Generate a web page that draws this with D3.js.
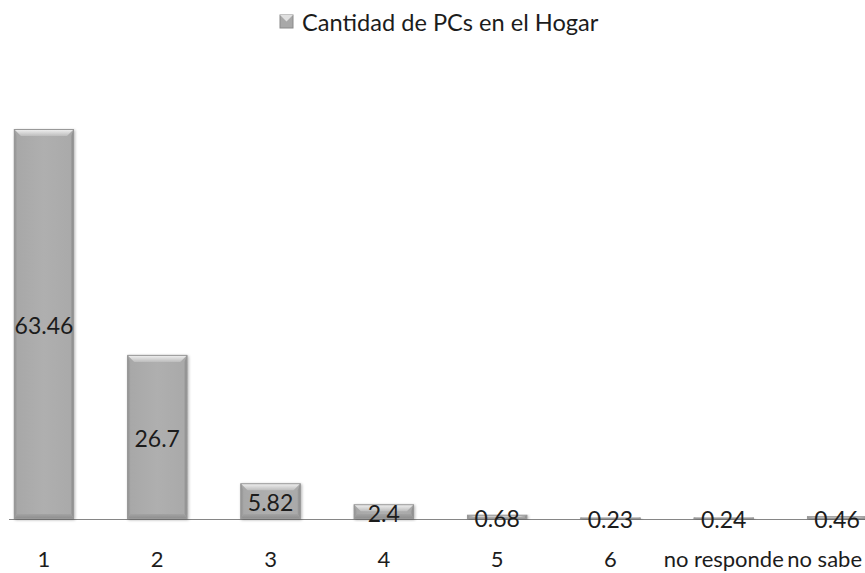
<!DOCTYPE html>
<html>
<head>
<meta charset="utf-8">
<script src="https://cdn.jsdelivr.net/npm/d3@7"></script>
<style>
  html, body { margin: 0; padding: 0; background: #fff; }
  svg { display: block; }
  text { font-family: Lato, "Open Sans", sans-serif; fill: #1c1c1c; }
</style>
</head>
<body>
<svg id="chart" width="865" height="573"></svg>
<script>
// Cantidad de PCs en el Hogar (%)
const categories = ["1", "2", "3", "4", "5", "6", "no responde", "no sabe"];
const values = [63.46, 26.7, 5.82, 2.4, 0.68, 0.23, 0.24, 0.46];
const seriesName = "Cantidad de PCs en el Hogar";

const W = 865, H = 573;
const baseY = 519, topY = 129;
const svg = d3.select("#chart");

const x = d3.scaleBand().domain(categories).range([-12.7, 893.7]).paddingInner(0.47).paddingOuter(0.235);
const y = d3.scaleLinear().domain([0, 63.46]).range([baseY, topY]);

const defs = svg.append("defs");
const face = defs.append("linearGradient").attr("id", "face").attr("x1", 0).attr("x2", 1).attr("y1", 0).attr("y2", 0);
face.append("stop").attr("offset", "0").attr("stop-color", "#a7a7a7");
face.append("stop").attr("offset", "0.5").attr("stop-color", "#afafaf");
face.append("stop").attr("offset", "1").attr("stop-color", "#a9a9a9");
const topG = defs.append("linearGradient").attr("id", "topBevel").attr("x1", 0).attr("x2", 0).attr("y1", 0).attr("y2", 1);
topG.append("stop").attr("offset", "0").attr("stop-color", "#f4f4f4");
topG.append("stop").attr("offset", "1").attr("stop-color", "#bdbdbd");
const leftG = defs.append("linearGradient").attr("id", "leftBevel").attr("x1", 0).attr("x2", 1).attr("y1", 0).attr("y2", 0);
leftG.append("stop").attr("offset", "0").attr("stop-color", "#8e8e8e");
leftG.append("stop").attr("offset", "1").attr("stop-color", "#a4a4a4");
const rightG = defs.append("linearGradient").attr("id", "rightBevel").attr("x1", 1).attr("x2", 0).attr("y1", 0).attr("y2", 0);
rightG.append("stop").attr("offset", "0").attr("stop-color", "#858585");
rightG.append("stop").attr("offset", "1").attr("stop-color", "#a0a0a0");
const botG = defs.append("linearGradient").attr("id", "botBevel").attr("x1", 0).attr("x2", 0).attr("y1", 1).attr("y2", 0);
botG.append("stop").attr("offset", "0").attr("stop-color", "#8c8c8c");
botG.append("stop").attr("offset", "1").attr("stop-color", "#a3a3a3");

const f = defs.append("filter").attr("id", "shadow").attr("x", "-20%").attr("y", "-20%").attr("width", "140%").attr("height", "140%");
f.append("feGaussianBlur").attr("in", "SourceAlpha").attr("stdDeviation", 1.5);
f.append("feOffset").attr("dx", 1).attr("dy", 1).attr("result", "b");
f.append("feComponentTransfer").append("feFuncA").attr("type", "linear").attr("slope", 0.3);
const m = f.append("feMerge");
m.append("feMergeNode");
m.append("feMergeNode").attr("in", "SourceGraphic");

// Axis baseline
svg.append("line").attr("x1", 9).attr("x2", W).attr("y1", baseY + 0.5).attr("y2", baseY + 0.5)
  .attr("stroke", "#868686").attr("stroke-width", 1);

// Bevelled bars
const bars = svg.append("g").selectAll("g").data(values).join("g")
  .attr("filter", "url(#shadow)");
bars.each(function(v, i) {
  const gx = d3.select(this);
  const x0 = x(categories[i]), w = x.bandwidth();
  const y0 = y(v), h = baseY - y0;
  const bt = Math.min(7, h * 0.55), bs = Math.min(3, w / 2), bb = Math.min(5, h * 0.35);
  gx.append("rect").attr("x", x0).attr("y", y0).attr("width", w).attr("height", h).attr("fill", "url(#face)");
  gx.append("path").attr("d", `M${x0},${y0}L${x0 + bs},${y0 + bt}L${x0 + bs},${baseY - bb}L${x0},${baseY}Z`).attr("fill", "url(#leftBevel)");
  gx.append("path").attr("d", `M${x0 + w},${y0}L${x0 + w - bs},${y0 + bt}L${x0 + w - bs},${baseY - bb}L${x0 + w},${baseY}Z`).attr("fill", "url(#rightBevel)");
  gx.append("path").attr("d", `M${x0},${baseY}L${x0 + bs},${baseY - bb}L${x0 + w - bs},${baseY - bb}L${x0 + w},${baseY}Z`).attr("fill", "url(#botBevel)");
  gx.append("path").attr("d", `M${x0},${y0}L${x0 + w},${y0}L${x0 + w - bs - 4},${y0 + bt}L${x0 + bs + 4},${y0 + bt}Z`).attr("fill", "url(#topBevel)");
  gx.append("rect").attr("x", x0 + 0.5).attr("y", y0 + 0.5).attr("width", w - 1).attr("height", Math.max(0, h - 1))
    .attr("fill", "none").attr("stroke", "#999").attr("stroke-width", 1);
});

// Value labels, centred in each bar
svg.append("g").selectAll("text").data(values).join("text")
  .attr("x", (d, i) => x(categories[i]) + x.bandwidth() / 2)
  .attr("y", d => (y(d) + baseY) / 2 + 1)
  .attr("text-anchor", "middle").attr("dominant-baseline", "central")
  .attr("font-size", 23)
  .text(d => d);

// Category labels; the last one is pulled back inside the right edge
svg.append("g").selectAll("text").data(categories).join("text")
  .attr("x", d => x(d) + x.bandwidth() / 2)
  .attr("y", 558)
  .attr("text-anchor", "middle").attr("dominant-baseline", "central")
  .attr("font-size", 22)
  .text(d => d)
  .each(function() {
    const bb = this.getBBox();
    if (bb.x + bb.width > W - 3) {
      d3.select(this).attr("text-anchor", "end").attr("x", W - 3);
    }
  });

// Legend
const leg = svg.append("g");
leg.append("text").attr("x", 302).attr("y", 22).attr("dominant-baseline", "central")
  .attr("font-size", 23.6).text(seriesName);
leg.append("rect").attr("x", 280).attr("y", 15).attr("width", 13).attr("height", 13).attr("fill", "#a8a8a8").attr("stroke", "#8a8a8a");
leg.append("path").attr("d", "M280,15L293,15L286.5,21.5Z").attr("fill", "#e0e0e0");
</script>
</body>
</html>
